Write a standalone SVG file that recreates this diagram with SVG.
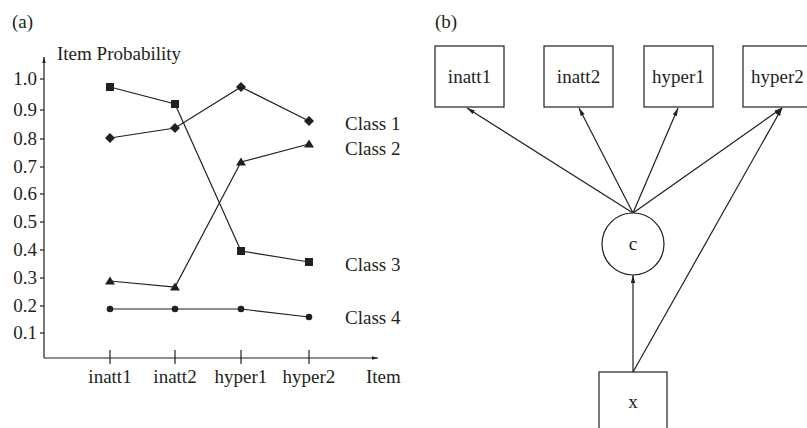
<svg xmlns="http://www.w3.org/2000/svg" width="807" height="428" viewBox="0 0 807 428">
<style>
text{font-family:"Liberation Serif","Times New Roman",serif;font-size:19px;fill:#231f20}
.ln{stroke:#231f20;stroke-width:1.2;fill:none}
.mk{fill:#231f20;stroke:none}
.box{fill:#fff;stroke:#231f20;stroke-width:1.2}
.ya{text-anchor:end}
.mid{text-anchor:middle}
</style>
<defs>
<marker id="ah" markerUnits="userSpaceOnUse" markerWidth="10" markerHeight="8" refX="8" refY="3" orient="auto">
<path d="M0,0.8 L8,3 L0,5.2 z" fill="#231f20"/>
</marker>
<marker id="ah2" markerUnits="userSpaceOnUse" markerWidth="10" markerHeight="8" refX="6" refY="2.5" orient="auto">
<path d="M0,0.8 L6,2.5 L0,4.2 z" fill="#231f20"/>
</marker>
</defs>
<rect width="807" height="428" fill="#fff"/>

<!-- Panel (a) -->
<g id="chart">
<text x="12" y="28">(a)</text>
<text x="57" y="60">Item Probability</text>
<line class="ln" x1="44" y1="358" x2="44" y2="57" marker-end="url(#ah2)"/>
<line class="ln" x1="44" y1="358" x2="378" y2="358" marker-end="url(#ah2)"/>
<g class="ln">
<line x1="40" y1="79" x2="44" y2="79"/>
<line x1="40" y1="110" x2="44" y2="110"/>
<line x1="40" y1="139" x2="44" y2="139"/>
<line x1="40" y1="167" x2="44" y2="167"/>
<line x1="40" y1="194" x2="44" y2="194"/>
<line x1="40" y1="222" x2="44" y2="222"/>
<line x1="40" y1="250" x2="44" y2="250"/>
<line x1="40" y1="278" x2="44" y2="278"/>
<line x1="40" y1="306" x2="44" y2="306"/>
<line x1="40" y1="333" x2="44" y2="333"/>
<line x1="110" y1="350" x2="110" y2="364"/>
<line x1="175" y1="350" x2="175" y2="364"/>
<line x1="241" y1="350" x2="241" y2="364"/>
<line x1="309" y1="350" x2="309" y2="364"/>
</g>
<text class="ya" x="37" y="85">1.0</text>
<text class="ya" x="37" y="116">0.9</text>
<text class="ya" x="37" y="145">0.8</text>
<text class="ya" x="37" y="173">0.7</text>
<text class="ya" x="37" y="200">0.6</text>
<text class="ya" x="37" y="228">0.5</text>
<text class="ya" x="37" y="256">0.4</text>
<text class="ya" x="37" y="284">0.3</text>
<text class="ya" x="37" y="312">0.2</text>
<text class="ya" x="37" y="339">0.1</text>
<text class="mid" x="110" y="383">inatt1</text>
<text class="mid" x="175" y="383">inatt2</text>
<text class="mid" x="241" y="383">hyper1</text>
<text class="mid" x="309" y="383">hyper2</text>
<text x="366" y="383">Item</text>

<polyline class="ln" points="110,138 175,128 241,87 309,121"/>
<polyline class="ln" points="110,87 175,104 241,251 309,262"/>
<polyline class="ln" points="110,281 175,287 241,162 309,144"/>
<polyline class="ln" points="110,309 175,309 241,309 309,317"/>

<g class="mk">
<path d="M110,133 L115,138 L110,143 L105,138 z"/>
<path d="M175,123 L180,128 L175,133 L170,128 z"/>
<path d="M241,82 L246,87 L241,92 L236,87 z"/>
<path d="M309,116 L314,121 L309,126 L304,121 z"/>
<rect x="106" y="83" width="8" height="8"/>
<rect x="171" y="100" width="8" height="8"/>
<rect x="237" y="247" width="8" height="8"/>
<rect x="305" y="258" width="8" height="8"/>
<path d="M110,276.5 L115,284.5 L105,284.5 z"/>
<path d="M175,282.5 L180,290.5 L170,290.5 z"/>
<path d="M241,157.5 L246,165.5 L236,165.5 z"/>
<path d="M309,139.5 L314,147.5 L304,147.5 z"/>
<circle cx="110" cy="309" r="3.3"/>
<circle cx="175" cy="309" r="3.3"/>
<circle cx="241" cy="309" r="3.3"/>
<circle cx="309" cy="317" r="3.3"/>
</g>
<text x="345" y="130">Class 1</text>
<text x="345" y="155">Class 2</text>
<text x="345" y="271">Class 3</text>
<text x="345" y="324">Class 4</text>
</g>

<!-- Panel (b) -->
<text x="435" y="28">(b)</text>
<g id="connectors">
<line class="ln" x1="633" y1="213" x2="467" y2="108" marker-end="url(#ah)"/>
<line class="ln" x1="633" y1="213" x2="579" y2="108" marker-end="url(#ah)"/>
<line class="ln" x1="633" y1="213" x2="678" y2="108" marker-end="url(#ah)"/>
<line class="ln" x1="633" y1="213" x2="782" y2="108" marker-end="url(#ah)"/>
<line class="ln" x1="633" y1="372" x2="782" y2="108" marker-end="url(#ah)"/>
<line class="ln" x1="633" y1="372" x2="633" y2="275" marker-end="url(#ah)"/>
</g>
<g id="inatt1"><rect class="box" x="435" y="46" width="69" height="61"/><text class="mid" x="469.5" y="83">inatt1</text></g>
<g id="inatt2"><rect class="box" x="544" y="46" width="69" height="61"/><text class="mid" x="578.5" y="83">inatt2</text></g>
<g id="hyper1"><rect class="box" x="644" y="46" width="69" height="61"/><text class="mid" x="678.5" y="83">hyper1</text></g>
<g id="hyper2"><rect class="box" x="743" y="46" width="69" height="61"/><text class="mid" x="777.5" y="83">hyper2</text></g>
<g id="c"><circle class="box" cx="633" cy="244" r="31"/><text class="mid" x="633" y="250">c</text></g>
<g id="x"><rect class="box" x="599" y="372" width="68" height="70"/><text class="mid" x="633" y="408">x</text></g>
</svg>
